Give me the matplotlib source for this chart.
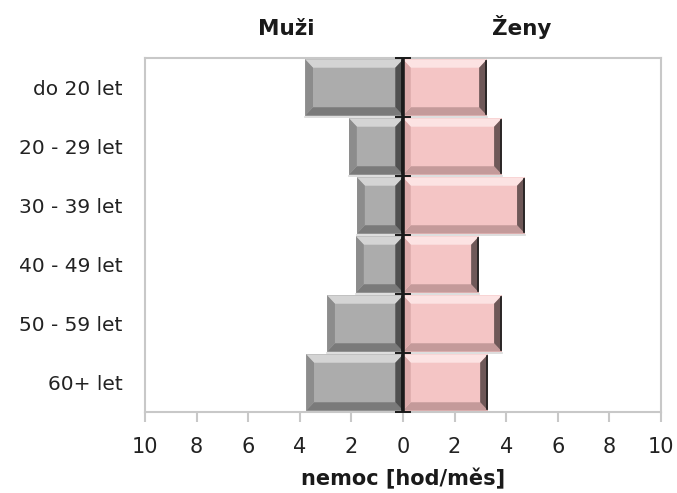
import matplotlib
matplotlib.use("Agg")
import matplotlib.pyplot as plt
from matplotlib.patches import Polygon
import numpy as np

plt.rcParams['font.family'] = ['DejaVu Sans']

# data (hours per month of sick leave)
categories = ['do 20 let', '20 - 29 let', '30 - 39 let', '40 - 49 let', '50 - 59 let', '60+ let']
men = [3.79, 2.09, 1.78, 1.82, 2.94, 3.75]
women = [3.25, 3.83, 4.72, 2.94, 3.83, 3.29]
xticks = [-10, -8, -6, -4, -2, 0, 2, 4, 6, 8, 10]


def bevel_bar(ax, y, x0, x1, h, face, light, mid, dark, darker, bx=0.3, by=0.14):
    """Draw a bar with an Excel-like bevel between x0 and x1 (x0 < x1)."""
    top, bot = y - h / 2, y + h / 2   # y axis is inverted
    ax.add_patch(Polygon([(x0, top), (x1, top), (x1, bot), (x0, bot)],
                         closed=True, facecolor=face, edgecolor='none', zorder=2))
    # top (visually) bevel - light
    ax.add_patch(Polygon([(x0, top), (x1, top), (x1 - bx, top + by), (x0 + bx, top + by)],
                         closed=True, facecolor=light, edgecolor='none', zorder=3))
    # bottom bevel - dark
    ax.add_patch(Polygon([(x0, bot), (x1, bot), (x1 - bx, bot - by), (x0 + bx, bot - by)],
                         closed=True, facecolor=dark, edgecolor='none', zorder=3))
    # left bevel
    ax.add_patch(Polygon([(x0, top), (x0 + bx, top + by), (x0 + bx, bot - by), (x0, bot)],
                         closed=True, facecolor=mid, edgecolor='none', zorder=3))
    # right bevel
    ax.add_patch(Polygon([(x1, top), (x1 - bx, top + by), (x1 - bx, bot - by), (x1, bot)],
                         closed=True, facecolor=darker, edgecolor='none', zorder=3))
    # thin dark rim on the right
    ax.plot([x1 - 0.05, x1 - 0.05], [top + 0.03, bot - 0.03], color='#1e1e1e', lw=1.2, zorder=4)
    # soft shadow under the bar
    ax.plot([x0, x1], [bot + 0.02, bot + 0.02], color='#d8d8d8', lw=1.2, zorder=1)


fig = plt.figure(figsize=(6.77, 4.93), dpi=100)
ax = fig.add_axes([0.2142, 0.1643, 0.7622, 0.7181])

ypos = np.arange(len(categories))
h = 0.95
for y, m, w in zip(ypos, men, women):
    bevel_bar(ax, y, -m, 0, h, '#acacac', '#d4d4d4', '#8c8c8c', '#7a7a7a', '#505050')
    bevel_bar(ax, y, 0, w, h, '#f4c5c5', '#fce3e3', '#dcaaaa', '#c49a9a', '#6e5858')

ax.set_xlim(-10, 10)
ax.set_ylim(len(categories) - 0.5, -0.5)

# zero axis with category separators
ax.axvline(0, color='#1a1a1a', lw=2.6, zorder=5)
bounds = np.arange(len(categories) + 1) - 0.5
ax.hlines(bounds, -0.32, 0.32, color='#1a1a1a', lw=1.4, zorder=5, clip_on=False)

ax.set_yticks(ypos)
ax.set_yticklabels(categories, fontsize=14.5, color='#222222')
ax.tick_params(axis='y', length=0, pad=16)

ax.set_xticks(xticks)
ax.set_xticklabels([str(abs(t)) for t in xticks], fontsize=15, color='#222222')
ax.tick_params(axis='x', length=7, width=1.5, color='#c8c8c8', pad=11)

for s in ax.spines.values():
    s.set_color('#c8c8c8')
    s.set_linewidth(1.5)

ax.set_xlabel('nemoc [hod/měs]', fontsize=15, fontweight='bold', color='#1a1a1a', labelpad=8)

fig.text(286 / 677, 1 - 35 / 493, 'Muži', fontsize=15.5, fontweight='bold',
         color='#1a1a1a', ha='center', va='baseline')
fig.text(522 / 677, 1 - 35 / 493, 'Ženy', fontsize=15.5, fontweight='bold',
         color='#1a1a1a', ha='center', va='baseline')

fig.savefig('out.png', dpi=100)
